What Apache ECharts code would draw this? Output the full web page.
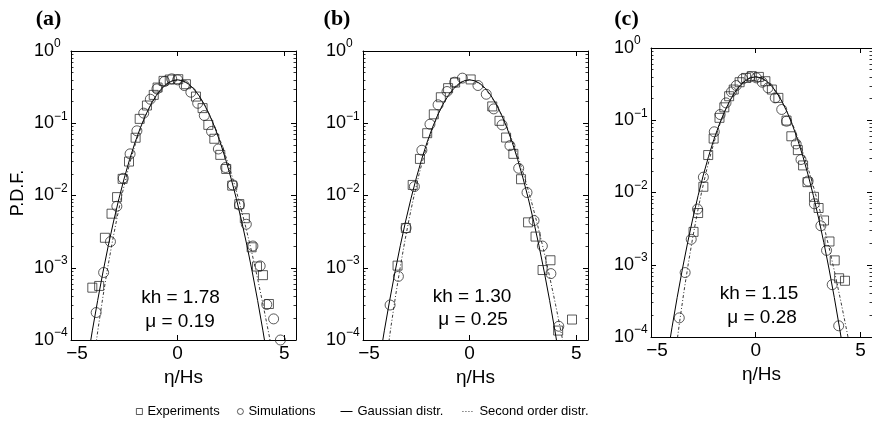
<!DOCTYPE html>
<html>
<head>
<meta charset="utf-8">
<script src="https://cdn.jsdelivr.net/npm/echarts@6/dist/echarts.min.js"></script>
<style>
  html, body { margin: 0; padding: 0; background: #fff; }
  #chart { width: 872px; height: 431px; }
</style>
</head>
<body>
<div id="chart"></div>
<script>
// Tick values
const xTicks = [-5, 0, 5];
const yTicks = [1e-4, 1e-3, 1e-2, 1e-1, 1];

// Panel texts
const panelLabels = ['(a)', '(b)', '(c)'];
const khValues = ['1.78', '1.30', '1.15'];
const muValues = ['0.19', '0.25', '0.28'];

// Gaussian distribution (same in every panel)
const gaussX = [-4.25, -4, -3.75, -3.5, -3.25, -3, -2.75, -2.5, -2.25, -2, -1.75, -1.5, -1.25, -1, -0.75, -0.5, -0.25, 0,
  0.25, 0.5, 0.75, 1, 1.25, 1.5, 1.75, 2, 2.25, 2.5, 2.75, 3, 3.25, 3.5, 3.75, 4, 4.25];
const gaussY = [4.8e-5, 1.34e-4, 3.53e-4, 8.73e-4, 2.03e-3, 4.43e-3, 9.09e-3, 0.0175, 0.0317, 0.054, 0.0863, 0.1295, 0.1827, 0.242, 0.3011, 0.3521, 0.3867, 0.3989,
  0.3867, 0.3521, 0.3011, 0.242, 0.1827, 0.1295, 0.0863, 0.054, 0.0317, 0.0175, 9.09e-3, 4.43e-3, 2.03e-3, 8.73e-4, 3.53e-4, 1.34e-4, 4.8e-5];

// Second order distribution, panels a, b, c
const secondXa = [-3.925, -3.712, -3.497, -3.28, -3.06, -2.838, -2.614, -2.388, -2.159, -1.928, -1.695, -1.46, -1.222, -0.982, -0.74, -0.496, -0.249, 0,
  0.251, 0.505, 0.76, 1.018, 1.278, 1.541, 1.805, 2.072, 2.341, 2.613, 2.886, 3.162, 3.44, 3.721, 4.003, 4.288, 4.575];
const secondYa = [5.6e-5, 1.56e-4, 4.08e-4, 1.0e-3, 2.3e-3, 4.97e-3, 0.0101, 0.0193, 0.0345, 0.0582, 0.0921, 0.1369, 0.1913, 0.251, 0.3095, 0.3585, 0.3902, 0.3989,
  0.3832, 0.3458, 0.2932, 0.2336, 0.1748, 0.1229, 0.0812, 0.0504, 0.0294, 0.0161, 8.27e-3, 4.0e-3, 1.82e-3, 7.75e-4, 3.11e-4, 1.17e-4, 4.1e-5];
const secondXb = [-3.889, -3.68, -3.469, -3.255, -3.039, -2.82, -2.599, -2.375, -2.149, -1.92, -1.689, -1.455, -1.219, -0.98, -0.739, -0.495, -0.249, 0,
  0.251, 0.505, 0.761, 1.02, 1.281, 1.545, 1.811, 2.08, 2.351, 2.625, 2.901, 3.18, 3.461, 3.745, 4.031, 4.32, 4.611];
const secondYb = [5.75e-5, 1.59e-4, 4.15e-4, 1.015e-3, 2.33e-3, 5.04e-3, 0.0102, 0.0195, 0.0349, 0.0587, 0.0928, 0.1378, 0.1923, 0.2521, 0.3105, 0.3593, 0.3906, 0.3989,
  0.3828, 0.3452, 0.2924, 0.2327, 0.174, 0.1222, 0.0806, 0.05, 0.0291, 0.0159, 8.19e-3, 3.96e-3, 1.8e-3, 7.66e-4, 3.07e-4, 1.15e-4, 4.08e-5];
const secondXc = [-3.835, -3.632, -3.427, -3.218, -3.007, -2.793, -2.576, -2.356, -2.134, -1.908, -1.68, -1.448, -1.214, -0.977, -0.737, -0.494, -0.249, 0,
  0.251, 0.506, 0.763, 1.023, 1.286, 1.552, 1.82, 2.092, 2.366, 2.644, 2.924, 3.207, 3.493, 3.782, 4.073, 4.368, 4.665];
const secondYc = [5.9e-5, 1.64e-4, 4.26e-4, 1.04e-3, 2.39e-3, 5.14e-3, 0.0104, 0.0198, 0.0354, 0.0595, 0.0938, 0.1391, 0.1938, 0.2536, 0.3119, 0.3604, 0.3912, 0.3989,
  0.3823, 0.3442, 0.2911, 0.2313, 0.1727, 0.1212, 0.0799, 0.0494, 0.0288, 0.0157, 8.07e-3, 3.9e-3, 1.77e-3, 7.52e-4, 3.01e-4, 1.13e-4, 4.0e-5];

// Experiments (squares)
const expXa = [-4.0, -3.68, -3.41, -3.1, -2.84, -2.58, -2.28, -1.97, -1.78, -1.44, -1.12, -0.94, -0.66, -0.37, 0.03, 0.39, 0.86, 1.17, 1.44, 1.72, 2.0, 2.28, 2.56, 2.89, 3.15, 3.47, 3.72, 4.0, 4.28];
const expYa = [5.3e-4, 5.6e-4, 2.6e-3, 5.6e-3, 9.5e-3, 0.017, 0.0295, 0.063, 0.115, 0.176, 0.247, 0.312, 0.386, 0.403, 0.407, 0.347, 0.234, 0.162, 0.095, 0.061, 0.0365, 0.0233, 0.0137, 7.6e-3, 4.85e-3, 1.92e-3, 1.04e-3, 7.9e-4, 3.15e-4];
const expXb = [-3.38, -2.99, -2.67, -2.33, -1.99, -1.68, -1.35, -1.01, -0.68, 0.05, 1.06, 1.4, 1.71, 2.05, 2.41, 2.74, 3.09, 3.42, 3.79, 4.15, 4.8];
const expYb = [1.07e-3, 3.55e-3, 0.014, 0.0321, 0.0728, 0.133, 0.229, 0.306, 0.366, 0.404, 0.171, 0.108, 0.0634, 0.0377, 0.0168, 4.25e-3, 2.7e-3, 9.3e-4, 1.27e-3, 1.35e-4, 1.92e-4];
const expXc = [-2.97, -2.75, -2.5, -2.27, -2.01, -1.73, -1.5, -1.27, -1.05, -0.77, -0.46, -0.19, 0.15, 0.46, 0.77, 1.08, 1.47, 1.7, 2.01, 2.26, 2.47, 2.78, 3.0, 3.26, 3.52, 3.77, 3.98, 4.26];
const expYc = [2.85e-3, 5.2e-3, 0.012, 0.033, 0.0558, 0.108, 0.151, 0.215, 0.266, 0.336, 0.385, 0.408, 0.398, 0.347, 0.266, 0.204, 0.099, 0.06, 0.0386, 0.0237, 0.0139, 8.7e-3, 6.1e-3, 4.1e-3, 2.1e-3, 1.15e-3, 6.5e-4, 6.0e-4];

// Simulations (circles)
const simXa = [-3.82, -3.47, -3.15, -2.85, -2.55, -2.23, -1.91, -1.59, -1.28, -0.97, -0.62, -0.28, 0.0, 0.31, 0.62, 0.94, 1.25, 1.59, 1.91, 2.25, 2.58, 2.9, 3.22, 3.53, 3.87, 4.18, 4.5, 4.82];
const simYa = [2.4e-4, 8.6e-4, 2.3e-3, 7.1e-3, 0.0173, 0.0377, 0.0786, 0.138, 0.215, 0.299, 0.378, 0.412, 0.399, 0.333, 0.269, 0.189, 0.128, 0.077, 0.044, 0.0244, 0.014, 7.4e-3, 4.0e-3, 2.0e-3, 1.06e-3, 3.1e-4, 1.96e-4, 1.0e-4];
const simXb = [-3.73, -3.34, -2.98, -2.59, -2.24, -1.86, -1.48, -1.06, -0.7, -0.34, 0.39, 0.78, 1.13, 1.52, 1.89, 2.3, 2.69, 3.02, 3.41, 3.81, 4.18];
const simYb = [3.05e-4, 7.6e-4, 3.55e-3, 0.0133, 0.0423, 0.0969, 0.18, 0.275, 0.37, 0.421, 0.333, 0.252, 0.158, 0.095, 0.049, 0.0238, 0.011, 4.5e-3, 2.0e-3, 8.3e-4, 1.55e-4];
const simXc = [-3.65, -3.37, -3.08, -2.78, -2.5, -1.98, -1.7, -1.42, -1.16, -0.93, -0.62, -0.28, 0.03, 0.31, 0.59, 0.93, 1.24, 1.47, 1.93, 2.16, 2.5, 2.8, 3.11, 3.38, 3.65, 3.96];
const simYc = [1.84e-4, 7.8e-4, 2.25e-3, 5.9e-3, 0.0163, 0.0692, 0.12, 0.174, 0.247, 0.302, 0.373, 0.398, 0.386, 0.336, 0.281, 0.204, 0.141, 0.097, 0.047, 0.0286, 0.0144, 6.98e-3, 3.46e-3, 1.58e-3, 5.3e-4, 1.43e-4];

const FONT = '"Liberation Sans", Arial, Helvetica, sans-serif';
const SERIF = '"Liberation Serif", "Times New Roman", serif';
const INK = '#000';

const zip = (xs, ys) => xs.map((x, k) => [x, ys[k]]);

const panels = [
  { second: [secondXa, secondYa], exp: [expXa, expYa], sim: [simXa, simYa] },
  { second: [secondXb, secondYb], exp: [expXb, expYb], sim: [simXb, simYb] },
  { second: [secondXc, secondYc], exp: [expXc, expYc], sim: [simXc, simYc] }
];

// Plot boxes
const grids = [
  { left: 71, top: 51, width: 225, height: 289 },
  { left: 363, top: 51, width: 225, height: 289 },
  { left: 651, top: 48, width: 225, height: 289 }
];

// Minor log ticks: 2..9 in every decade
const minorTicks = [];
for (let k = 0; k < yTicks.length - 1; k++) {
  for (let m = 2; m <= 9; m++) minorTicks.push(+(yTicks[k] * m).toPrecision(3));
}

const xFmt = v => (v < 0 ? '{m|\u2212' + (-v) + '}' : String(v));
const yFmt = v => {
  const e = Math.round(Math.log10(v));
  return '{b|10}{e|' + (e < 0 ? '\u2212' + (-e) : e) + '}';
};

const axisLine = { onZero: false, lineStyle: { color: INK, width: 1 } };
const xAxes = [], yAxes = [], series = [], graphics = [];

grids.forEach((g, i) => {
  const xBase = { gridIndex: i, type: 'value', min: -5, max: 5.55, splitLine: { show: false }, axisLine };
  xAxes.push(Object.assign({}, xBase, {
    position: 'bottom',
    axisTick: { inside: true, length: 5, customValues: xTicks, lineStyle: { color: INK, width: 1 } },
    axisLabel: {
      customValues: xTicks, margin: 4, color: INK, fontSize: 19, fontFamily: FONT, formatter: xFmt,
      rich: { m: { padding: [0, 0, 0, 12], fontSize: 19, fontFamily: FONT, color: INK } }
    },
    name: '\u03b7/Hs', nameLocation: 'middle', nameGap: 28,
    nameTextStyle: { fontSize: 19, fontFamily: FONT, color: INK }
  }));
  xAxes.push(Object.assign({}, xBase, {
    position: 'top',
    axisTick: { inside: true, length: 5, customValues: xTicks, lineStyle: { color: INK, width: 1 } },
    axisLabel: { show: false }
  }));

  const yBase = { gridIndex: i, type: 'log', logBase: 10, min: 1e-4, max: 1, splitLine: { show: false }, axisLine };
  yAxes.push(Object.assign({}, yBase, {
    position: 'left',
    axisTick: { inside: true, length: 5, customValues: yTicks, lineStyle: { color: INK, width: 1 } },
    axisLabel: {
      customValues: yTicks, align: 'left', margin: 37, formatter: yFmt,
      rich: {
        b: { fontSize: 18, lineHeight: 26, fontFamily: FONT, color: INK },
        e: { fontSize: 12, lineHeight: 12, verticalAlign: 'top', fontFamily: FONT, color: INK }
      }
    }
  }));
  yAxes.push(Object.assign({}, yBase, {
    position: 'right',
    axisTick: { inside: true, length: 5, customValues: yTicks, lineStyle: { color: INK, width: 1 } },
    axisLabel: { show: false }
  }));
  ['left', 'right'].forEach(pos => {
    yAxes.push(Object.assign({}, yBase, {
      position: pos,
      axisLine: { show: false, onZero: false },
      axisTick: { inside: true, length: 2.5, customValues: minorTicks, lineStyle: { color: INK, width: 0.8 } },
      axisLabel: { show: false }
    }));
  });

  const p = panels[i];
  const axisRef = { xAxisIndex: 2 * i, yAxisIndex: 4 * i };
  series.push(Object.assign({
    name: 'Gaussian distr.', type: 'line', data: zip(gaussX, gaussY), symbol: 'none', color: INK,
    lineStyle: { color: INK, width: 1 }, silent: true, z: 2
  }, axisRef));
  series.push(Object.assign({
    name: 'Second order distr.', type: 'line', data: zip(p.second[0], p.second[1]), symbol: 'none', color: INK,
    lineStyle: { color: '#222', width: 0.9, type: [3, 2, 1, 2] }, silent: true, z: 2
  }, axisRef));
  series.push(Object.assign({
    name: 'Experiments', type: 'scatter', symbol: 'rect', symbolSize: 9, clip: false,
    data: zip(p.exp[0], p.exp[1]),
    itemStyle: { color: 'transparent', borderColor: '#1a1a1a', borderWidth: 0.9 }, z: 3
  }, axisRef));
  series.push(Object.assign({
    name: 'Simulations', type: 'scatter', symbol: 'circle', symbolSize: 10, clip: false,
    data: zip(p.sim[0], p.sim[1]),
    itemStyle: { color: 'transparent', borderColor: '#1a1a1a', borderWidth: 0.9 }, z: 3
  }, axisRef));
});

// Panel letters, shared y title, annotations
const labelPos = [[48.5, 19], [337, 19], [626.5, 19]];
const annoPos = [[180.5, 298, 180, 321.5], [472, 296.5, 473, 320], [759, 294, 762, 317.5]];
panelLabels.forEach((t, i) => {
  graphics.push({
    type: 'text', x: labelPos[i][0], y: labelPos[i][1],
    style: { text: t, fill: INK, fontSize: 22, fontWeight: 'bold', fontFamily: SERIF, align: 'center', verticalAlign: 'middle' }
  });
  const a = annoPos[i];
  graphics.push({
    type: 'text', x: a[0], y: a[1],
    style: { text: 'kh = ' + khValues[i], fill: INK, fontSize: 19, fontFamily: FONT, align: 'center', verticalAlign: 'middle' }
  });
  graphics.push({
    type: 'text', x: a[2], y: a[3],
    style: { text: '\u03bc = ' + muValues[i], fill: INK, fontSize: 19, fontFamily: FONT, align: 'center', verticalAlign: 'middle' }
  });
});
graphics.push({
  type: 'text', x: 18.5, y: 193, rotation: Math.PI / 2,
  style: { text: 'P.D.F.', fill: INK, fontSize: 18, fontFamily: FONT, align: 'center', verticalAlign: 'middle' }
});

const legendBase = {
  orient: 'horizontal', top: 405, padding: 0, itemHeight: 6, selectedMode: false,
  textStyle: { fontSize: 13, fontFamily: FONT, color: INK }
};
const hollow = { color: 'transparent', borderColor: INK, borderWidth: 0.8 };
const legends = [
  Object.assign({}, legendBase, { left: 136, itemWidth: 6, data: [{ name: 'Experiments', icon: 'rect', itemStyle: hollow }] }),
  Object.assign({}, legendBase, { left: 237, itemWidth: 6, data: [{ name: 'Simulations', icon: 'circle', itemStyle: hollow }] }),
  Object.assign({}, legendBase, { left: 340, itemWidth: 12, data: [{ name: 'Gaussian distr.', itemStyle: { opacity: 0 }, lineStyle: { width: 1 } }] }),
  Object.assign({}, legendBase, { left: 462, itemWidth: 12, data: [{ name: 'Second order distr.', itemStyle: { opacity: 0 }, lineStyle: { width: 0.9, type: [1, 2] } }] })
];

const chart = echarts.init(document.getElementById('chart'), null, { renderer: 'canvas' });
chart.setOption({
  animation: false,
  backgroundColor: '#fff',
  grid: grids,
  xAxis: xAxes,
  yAxis: yAxes,
  legend: legends,
  series: series,
  graphic: graphics
});
</script>
</body>
</html>
